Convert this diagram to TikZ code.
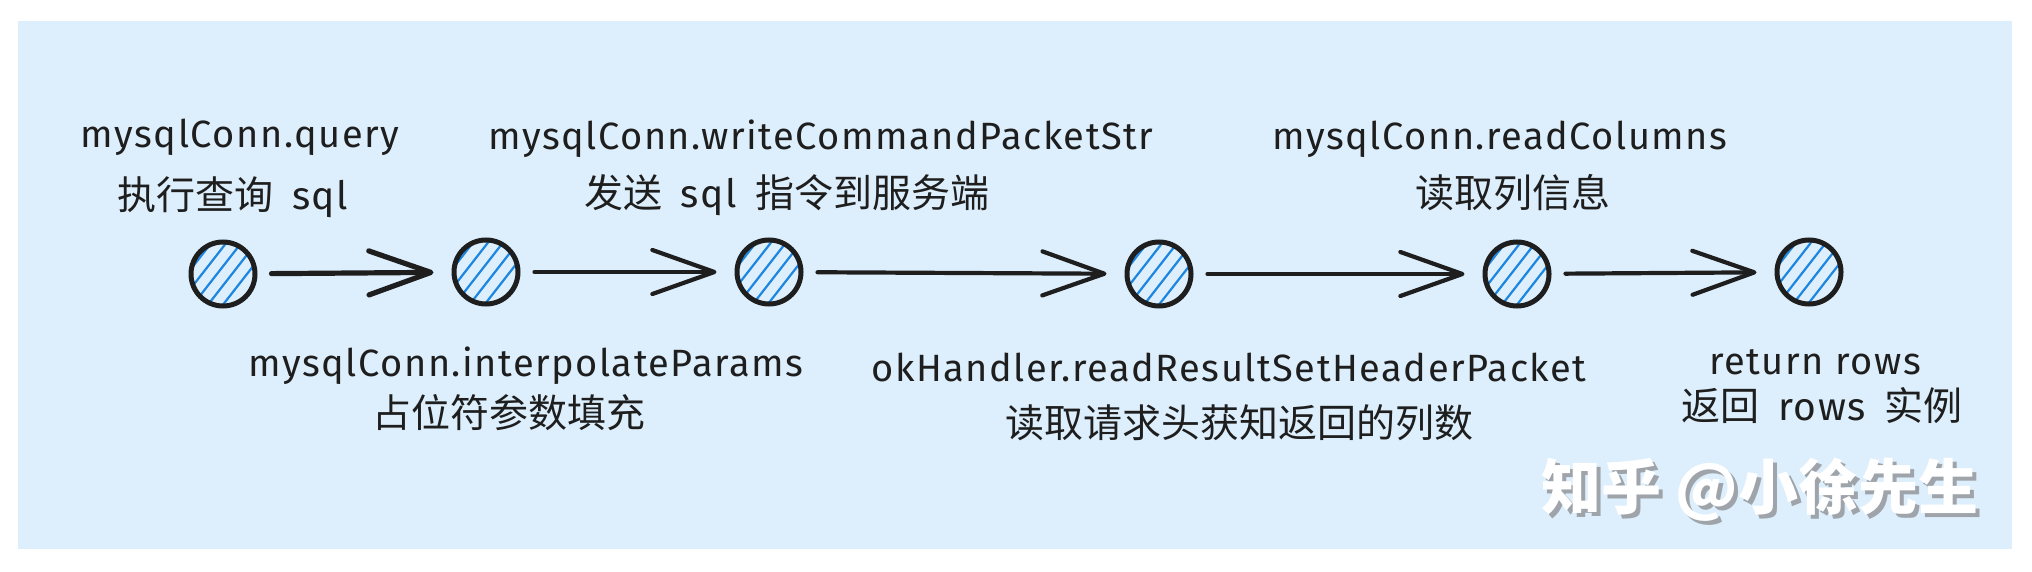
\documentclass[tikz,border=0pt]{standalone}
\usepackage{fontspec}
\setmainfont{Fira Sans}[LetterSpace=4]
\newfontfamily\cjk{Noto Sans CJK SC}
\usetikzlibrary{arrows.meta,calc}
\definecolor{bgblue}{HTML}{DDEFFC}
\definecolor{hatchblue}{HTML}{1C86E0}
\definecolor{ink}{HTML}{1E1E1E}
\definecolor{wmgrey}{HTML}{9EA4AA}
\tikzset{
  dot/.style={circle, draw=ink, line width=2.5pt, minimum size=32pt, inner sep=0pt,
    path picture={\foreach \o in {-18,-10.5,...,18}{\draw[hatchblue, line width=1.1pt]
      ($(path picture bounding box.center)+(\o pt,0pt)+(52:26pt)$) --
      ($(path picture bounding box.center)+(\o pt,0pt)+(232:26pt)$);}}},
  arr/.style={draw=ink, line width=2.1pt, line cap=round, line join=round,
    -{Straight Barb[length=31pt, width=22pt, round]}, shorten <=7pt, shorten >=9pt},
  code/.style={anchor=base, text=ink, font=\fontsize{19pt}{21pt}\selectfont, inner sep=0pt},
  zh/.style={anchor=base, text=ink, font=\fontsize{19.5pt}{22pt}\selectfont, inner sep=0pt},
  wmark/.style={anchor=base, inner sep=0pt, font=\cjk\bfseries\fontsize{30pt}{32pt}\selectfont},
}
\begin{document}
\begin{tikzpicture}[x=0.5pt, y=-0.5pt]
\useasboundingbox (0,0) rectangle (2032,572);
\fill[bgblue] (18,21) rectangle (2012,549);

\node[dot] (c1) at (223,274) {};
\node[dot] (c2) at (486,272) {};
\node[dot] (c3) at (769,272) {};
\node[dot] (c4) at (1159,274) {};
\node[dot] (c5) at (1517,274) {};
\node[dot] (c6) at (1809,272) {};

\draw[arr, line width=2.6pt] (c1) -- (c2);
\draw[arr] (c2) -- (c3);
\draw[arr] (c3) -- (c4);
\draw[arr] (c4) -- (c5);
\draw[arr] (c5) -- (c6);

\node[code] (t1a) at (240,148) {mysqlConn.query};
\node[zh] (t1b) at (233,210) {{\cjk 执行查询}\, sql};
\node[code] (t2a) at (526,376) {mysqlConn.interpolateParams};
\node[zh] (t2b) at (509,427) {\cjk 占位符参数填充};
\node[code] (t3a) at (821,150) {mysqlConn.writeCommandPacketStr};
\node[zh] (t3b) at (787,208) {{\cjk 发送}\, sql\, {\cjk 指令到服务端}};
\node[code] (t4a) at (1229,381) {okHandler.readResultSetHeaderPacket};
\node[zh] (t4b) at (1239,437) {\cjk 读取请求头获知返回的列数};
\node[code] (t5a) at (1500,150) {mysqlConn.readColumns};
\node[zh] (t5b) at (1513,208) {\cjk 读取列信息};
\node[code] (t6a) at (1815,374) {return rows};
\node[zh] (t6b) at (1822,420) {{\cjk 返回}\, rows\, {\cjk 实例}};

\node[wmark, text=wmgrey] (wms) at (1764,513) {知乎 @小徐先生};
\node[wmark, text=white] (wm) at (1760,509) {知乎 @小徐先生};
\end{tikzpicture}
\end{document}
